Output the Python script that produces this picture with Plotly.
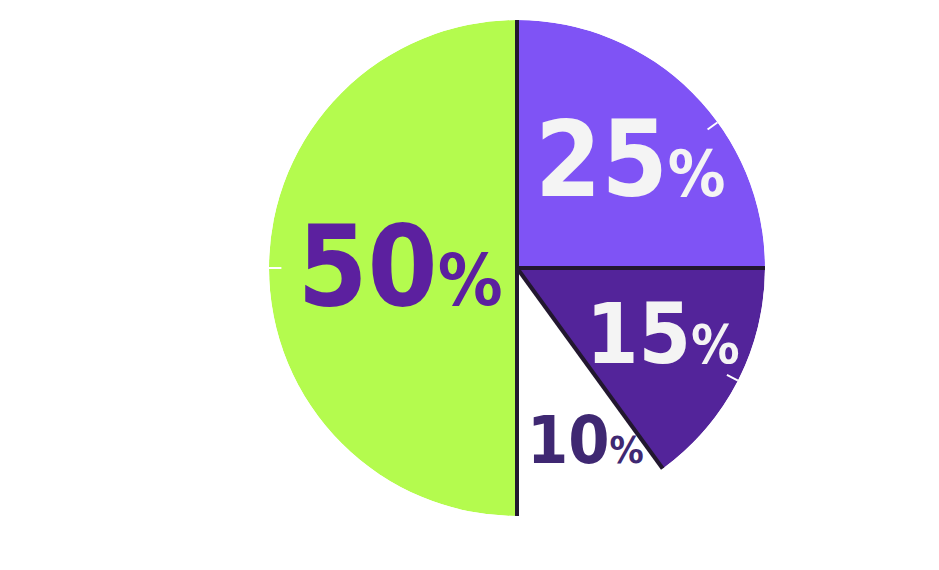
import plotly.graph_objects as go

# ---- data ----
labels = ["25%", "15%", "10%", "50%"]
values = [25, 15, 10, 50]

# ---- styles ----
slice_colors = ["#7F53F5", "#53249A", "#FFFFFF", "#B4FB4E"]
text_colors = ["#F4F4F4", "#F4F4F4", "#3F2872", "#5C209F"]
digit_sizes = [106, 84, 66, 112]
pct_sizes = [64, 54, 38, 72]
label_radius = [0.605, 0.66, 0.77, 0.473]
label_angle_shift = [4, 0, -3, -4.4]
tick_angles = [54, 117, 270]
line_color = "#22172F"
FONT = "DejaVu Sans Condensed, Liberation Sans Narrow, sans-serif"

total = sum(values)
widths = [v / total * 360 for v in values]
starts = []
acc = 0
for w in widths:
    starts.append(acc)
    acc += w
mids = [s + w / 2 for s, w in zip(starts, widths)]

fig = go.Figure()

fig.add_trace(go.Barpolar(
    r=[1] * len(values), theta=mids, width=widths,
    marker=dict(color=slice_colors, line=dict(width=0)),
    hoverinfo="skip", showlegend=False,
))

# divider lines
div_r, div_t = [], []
for b in starts:
    div_r += [0, 1.014, None]
    div_t += [b, b, None]
fig.add_trace(go.Scatterpolar(
    r=div_r, theta=div_t, mode="lines",
    line=dict(color=line_color, width=4),
    cliponaxis=False, hoverinfo="skip", showlegend=False, connectgaps=False,
))

# small white ticks
tk_r, tk_t = [], []
for a in tick_angles:
    tk_r += [0.95, 1.0, None]
    tk_t += [a, a, None]
fig.add_trace(go.Scatterpolar(
    r=tk_r, theta=tk_t, mode="lines",
    line=dict(color="#FFFFFF", width=2),
    cliponaxis=False, hoverinfo="skip", showlegend=False, connectgaps=False,
))

# labels
texts = []
for lab, ds, ps in zip(labels, digit_sizes, pct_sizes):
    num = lab.rstrip("%")
    texts.append(f"<span style='font-size:{ds}px'>{num}</span>"
                 f"<span style='font-size:{ps}px'>%</span>")
fig.add_trace(go.Scatterpolar(
    r=label_radius, theta=[m + s for m, s in zip(mids, label_angle_shift)],
    mode="text", text=texts,
    textposition="middle center",
    textfont=dict(family=FONT, color=text_colors, size=digit_sizes, weight="bold"),
    cliponaxis=False, hoverinfo="skip", showlegend=False,
))

fig.update_layout(
    width=939, height=570,
    margin=dict(l=87, r=8, t=12, b=62),
    paper_bgcolor="white", plot_bgcolor="white",
    polar=dict(
        bgcolor="rgba(0,0,0,0)",
        radialaxis=dict(range=[0, 1], visible=False, showgrid=False),
        angularaxis=dict(rotation=90, direction="clockwise", visible=False, showgrid=False),
        hole=0,
    ),
)

fig.write_html("out.html")
